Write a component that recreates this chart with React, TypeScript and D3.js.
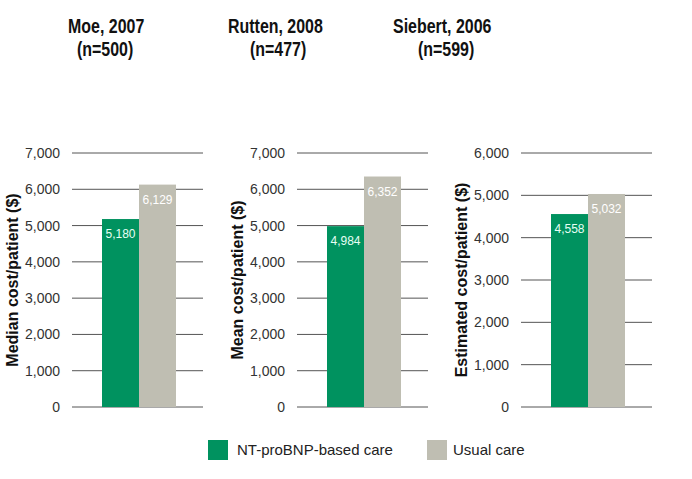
import React from "react";
import * as d3 from "d3";

const studies = ["Moe, 2007", "Rutten, 2008", "Siebert, 2006"];
const sampleSizes = ["(n=500)", "(n=477)", "(n=599)"];
const yAxisTitles = ["Median cost/patient ($)", "Mean cost/patient ($)", "Estimated cost/patient ($)"];
const ntProBnpCare = [5180, 4984, 4558];
const usualCare = [6129, 6352, 5032];
const yMaxima = [7000, 7000, 6000];
const seriesNames = ["NT-proBNP-based care", "Usual care"];

const GREEN = "#00925f";
const GREY = "#bfbeb2";
const W = 692;
const H = 479;

const panelOffsets = [0, 225, 449];
const titleX = [68, 228, 393];
const subtitleX = [77, 250, 418];

const fmt = d3.format(",");
const condensed = 0.76;

export default function App() {
  const top = 153;
  const bottom = 407;
  return (
    <svg width={W} height={H} style={{ position: "absolute", left: 0, top: 0, background: "#fff" }}>
      {studies.map((s, i) => {
        const ox = panelOffsets[i];
        const y = d3.scaleLinear().domain([0, yMaxima[i]]).range([bottom, top]);
        const x = d3.scaleBand().domain(seriesNames).range([ox + 102, ox + 176]).padding(0);
        const ticks = d3.range(0, yMaxima[i] + 1, 1000);
        const vals = [ntProBnpCare[i], usualCare[i]];
        return (
          <g key={s}>
            <text transform={`translate(${titleX[i]},33) scale(${condensed},1)`} fontFamily="'Liberation Sans', Arial, sans-serif" fontWeight="bold" fontSize={21} fill="#111">{s}</text>
            <text transform={`translate(${subtitleX[i]},56) scale(${condensed},1)`} fontFamily="'Liberation Sans', Arial, sans-serif" fontWeight="bold" fontSize={21} fill="#111">{sampleSizes[i]}</text>
            {ticks.map((t) => (
              <g key={t}>
                <line x1={ox + 72} x2={ox + 203} y1={y(t)} y2={y(t)} stroke="#555" strokeWidth={1} />
                <text x={ox + 60} y={y(t) + 5} textAnchor="end" fontFamily="'Liberation Sans', Arial, sans-serif" fontSize={14} fill="#333">{fmt(t)}</text>
              </g>
            ))}
            {vals.map((v, j) => (
              <g key={j}>
                <rect x={x(seriesNames[j])} y={y(v)} width={x.bandwidth()} height={bottom - y(v)} fill={j === 0 ? GREEN : GREY} />
                <text x={(x(seriesNames[j]) as number) + x.bandwidth() / 2} y={y(v) + 19} textAnchor="middle" fontFamily="'Liberation Sans', Arial, sans-serif" fontSize={12} fill={j === 0 ? "#e6fff4" : "#ffffff"}>{fmt(v)}</text>
              </g>
            ))}
            <text transform={`translate(${ox + 18},${(top + bottom) / 2}) rotate(-90)`} textAnchor="middle" fontFamily="'Liberation Sans', Arial, sans-serif" fontWeight="bold" fontSize={16} fill="#111">{yAxisTitles[i]}</text>
          </g>
        );
      })}
      <rect x={208} y={440} width={20} height={20} fill={GREEN} />
      <text x={237} y={455} fontFamily="'Liberation Sans', Arial, sans-serif" fontSize={15} fill="#222">{seriesNames[0]}</text>
      <rect x={427} y={440} width={20} height={20} fill={GREY} />
      <text x={453} y={455} fontFamily="'Liberation Sans', Arial, sans-serif" fontSize={15} fill="#222">{seriesNames[1]}</text>
    </svg>
  );
}
